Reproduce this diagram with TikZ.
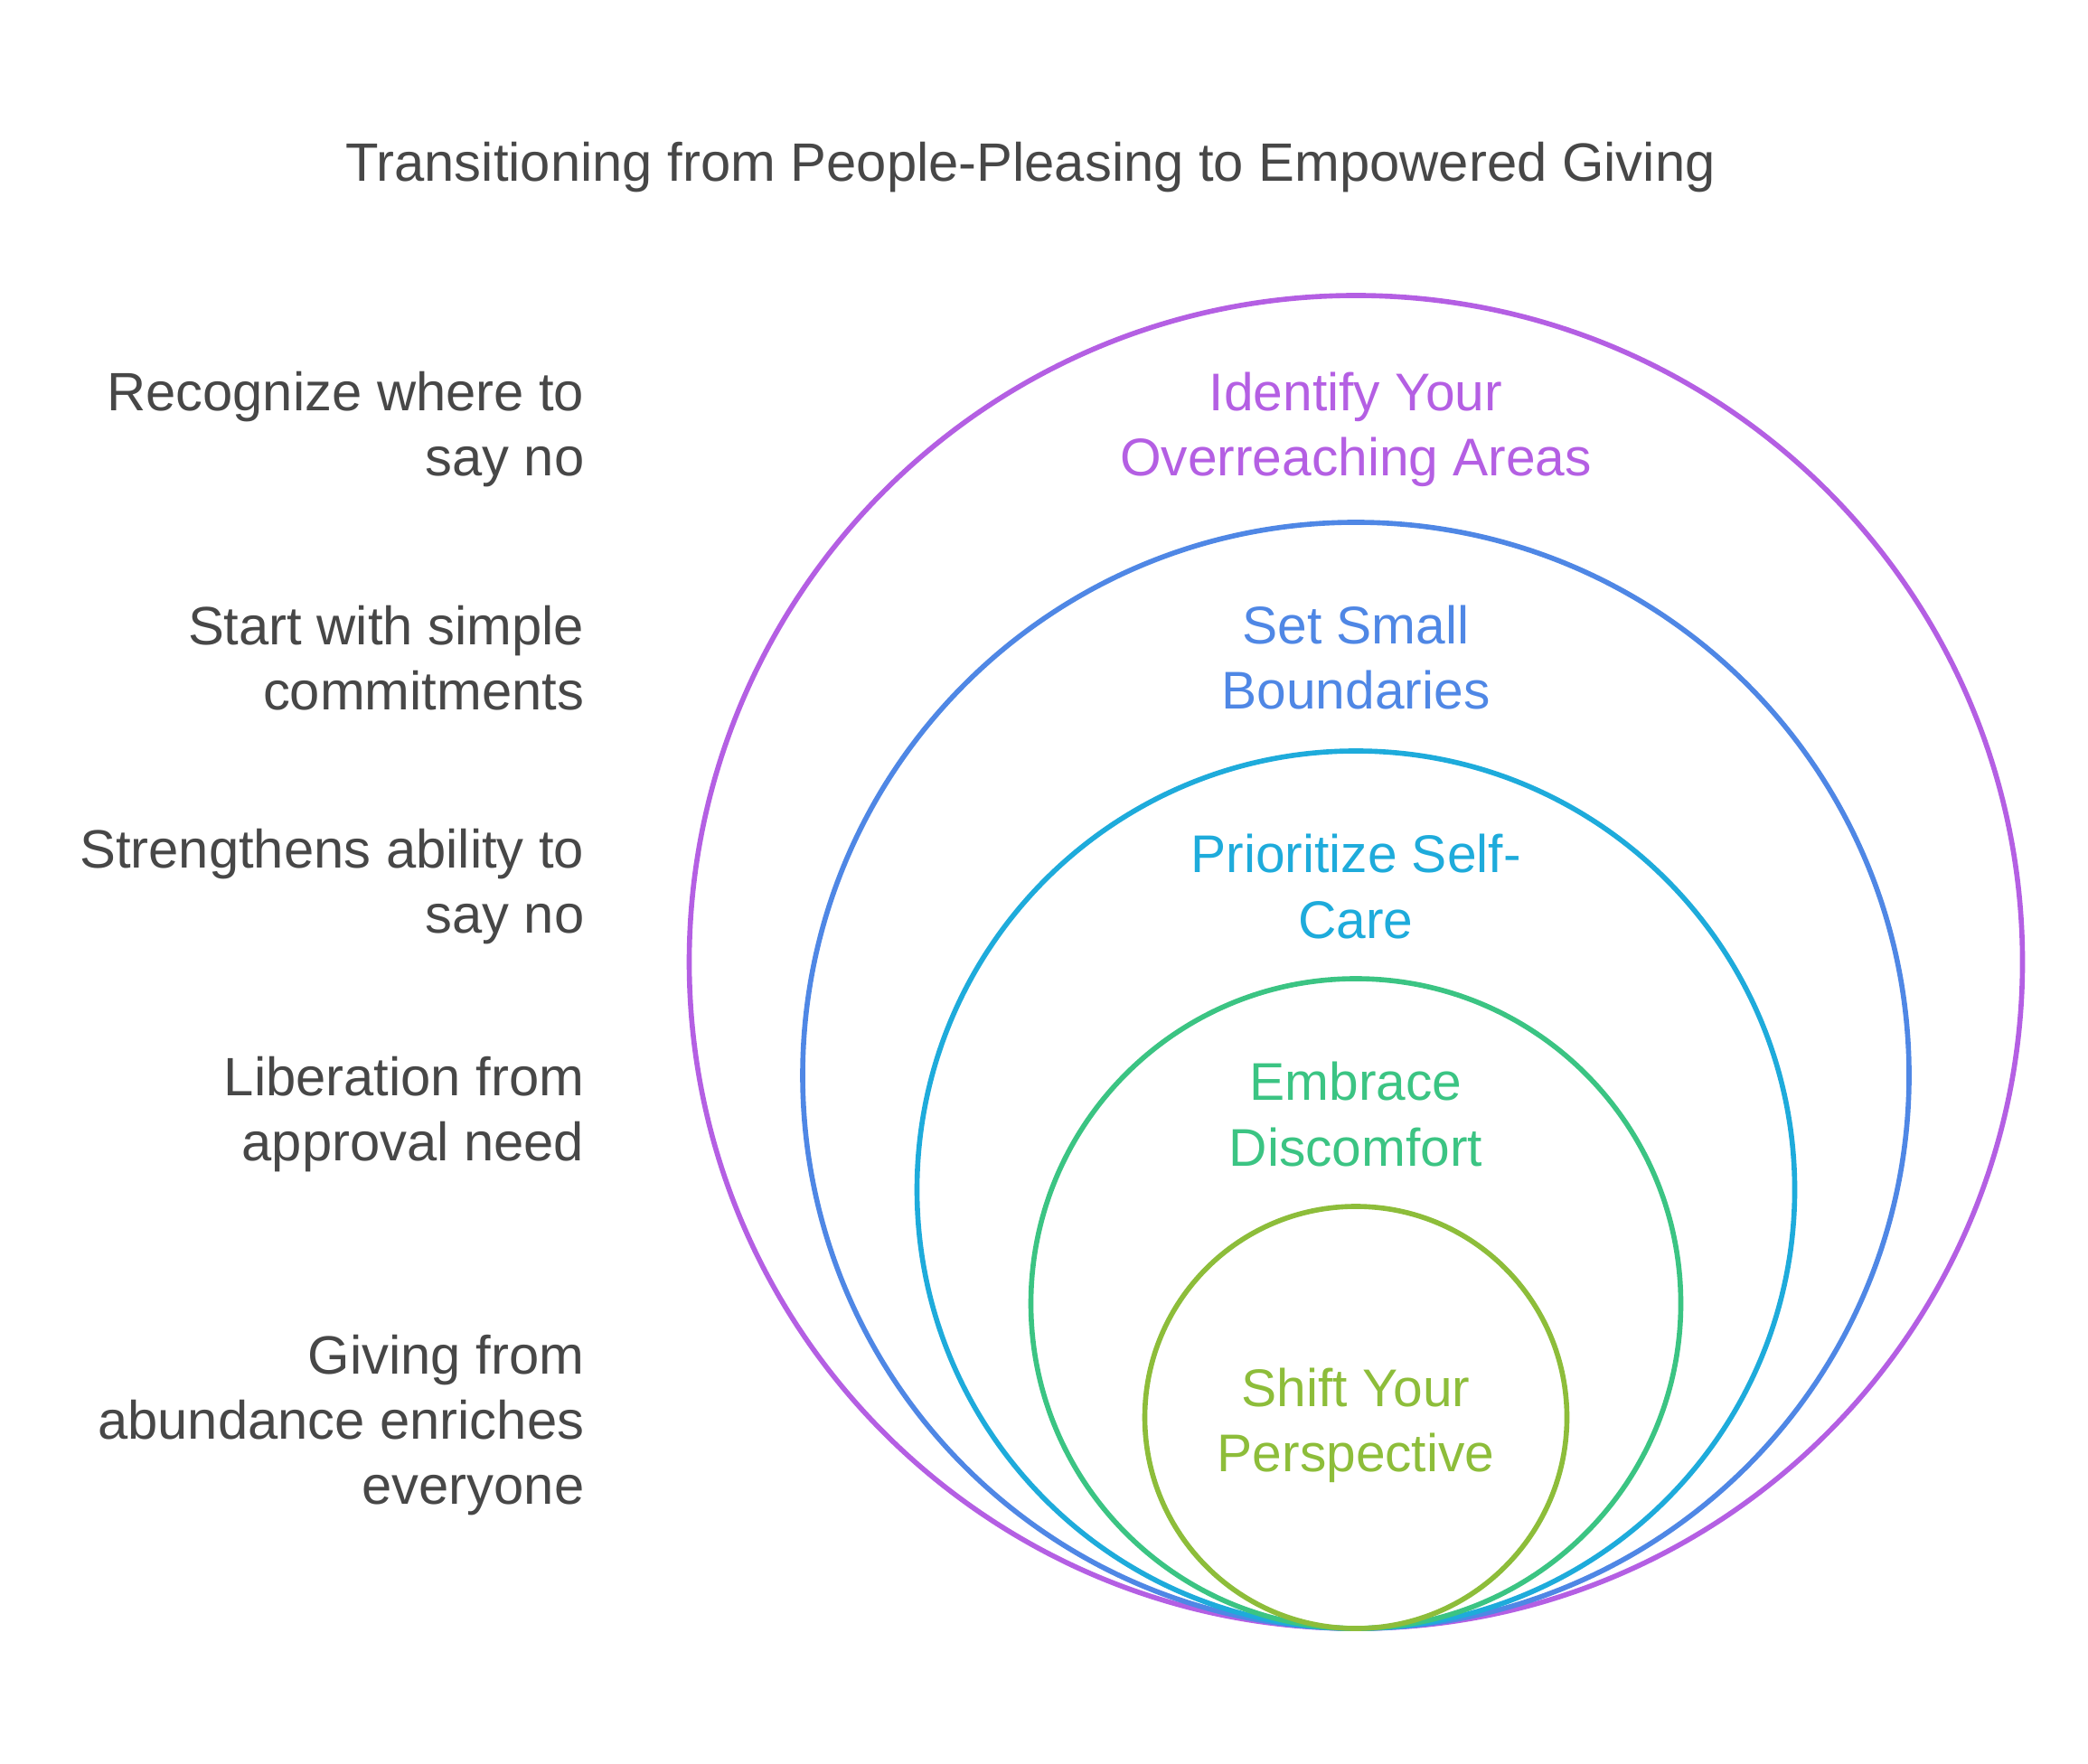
\documentclass[tikz,border=0pt]{standalone}
\usepackage{fontspec}
\setmainfont{Liberation Sans}
\usepackage{tikz}
\usetikzlibrary{shapes.geometric, positioning}

\definecolor{txtgray}{HTML}{474747}
\definecolor{cpurple}{HTML}{B45FE3}
\definecolor{cblue}{HTML}{4F87E5}
\definecolor{ccyan}{HTML}{1EABDB}
\definecolor{cgreen}{HTML}{3BC483}
\definecolor{clime}{HTML}{8DBD3A}

\tikzstyle{ring} = [circle, inner sep=0pt, line width=1.6pt]
\tikzstyle{ringtext} = [align=center, font=\fontsize{16.7}{20.5}\selectfont]
\tikzstyle{sidetext} = [align=right, anchor=east, inner sep=0pt, text=txtgray, font=\fontsize{17}{20.5}\selectfont]

\begin{document}
\begin{tikzpicture}
        \useasboundingbox (0,0) rectangle (23.10,19.51);

        \node (title) [text=txtgray, font=\fontsize{17}{21}\selectfont] at (11.40,17.66) {Transitioning from People-Pleasing to Empowered Giving};

        % nested circles, all touching at the bottom
        \node (R1) [ring, draw=cpurple, minimum size=14.75cm] at (15.00,8.865) {};
        \node (R2) [ring, draw=cblue, minimum size=12.24cm] at (15.00,7.61) {};
        \node (R3) [ring, draw=ccyan, minimum size=9.71cm] at (15.00,6.345) {};
        \node (R4) [ring, draw=cgreen, minimum size=7.19cm] at (15.00,5.085) {};
        \node (R5) [ring, draw=clime, minimum size=4.67cm] at (15.00,3.825) {};

        \node (T1) [ringtext, text=cpurple] at (15.00,14.76) {Identify Your\\Overreaching Areas};
        \node (T2) [ringtext, text=cblue] at (15.00,12.23) {Set Small\\Boundaries};
        \node (T3) [ringtext, text=ccyan] at (15.00,9.70) {Prioritize Self-\\Care};
        \node (T4) [ringtext, text=cgreen] at (15.00,7.18) {Embrace\\Discomfort};
        \node (T5) [ringtext, text=clime] at (15.00,3.74) {Shift Your\\Perspective};

        % descriptions on the left
        \node (L1) [sidetext] at (6.47,14.76) {Recognize where to\\say no};
        \node (L2) [sidetext] at (6.47,12.23) {Start with simple\\commitments};
        \node (L3) [sidetext] at (6.47,9.70) {Strengthens ability to\\say no};
        \node (L4) [sidetext] at (6.47,7.18) {Liberation from\\approval need};
        \node (L5) [sidetext] at (6.47,3.74) {Giving from\\abundance enriches\\everyone};

    \end{tikzpicture}
\end{document}
